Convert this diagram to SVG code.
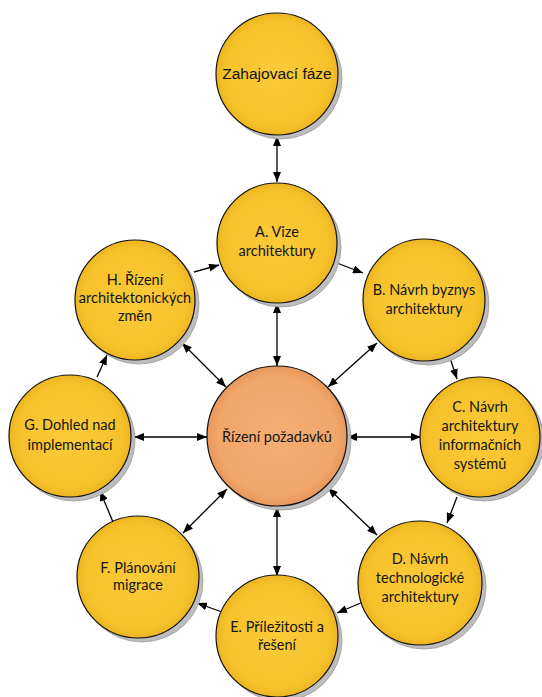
<svg xmlns="http://www.w3.org/2000/svg" width="542" height="697" viewBox="0 0 542 697">
<style>
.shadow{fill:#bdbdbd;stroke:#9a9a9a;stroke-width:0.8}
.y{fill:url(#gy);stroke:#111;stroke-width:1.2}
.o{fill:url(#go);stroke:#111;stroke-width:1.2}
.t{font-family:Lato,"Open Sans",sans-serif;font-size:14.5px;fill:#151515;text-anchor:middle}
.ta{font-family:"Liberation Sans",Arial,sans-serif;font-size:15.5px;fill:#111;text-anchor:middle}
.c{stroke:#000;stroke-width:1.3;fill:none}
.s{marker-end:url(#ah)}
.d{marker-start:url(#ah);marker-end:url(#ah)}
</style>
<defs>
<radialGradient id="gy" cx="0.5" cy="0.5" r="0.5">
<stop offset="0" stop-color="#FBCB38"/>
<stop offset="0.85" stop-color="#F6C22B"/>
<stop offset="1" stop-color="#EDB621"/>
</radialGradient>
<radialGradient id="go" cx="0.5" cy="0.5" r="0.5">
<stop offset="0" stop-color="#F6AE73"/>
<stop offset="0.85" stop-color="#F1A66A"/>
<stop offset="1" stop-color="#E8975A"/>
</radialGradient>
<marker id="ah" viewBox="0 0 10 8" refX="10" refY="4" markerWidth="10" markerHeight="8" markerUnits="userSpaceOnUse" orient="auto-start-reverse">
<path d="M0,0 L10,4 L0,8 z" fill="#000"/>
</marker>
</defs>
<g id="connectors">
<line class="c d" x1="277" y1="136" x2="277" y2="182"/>
<line class="c s" x1="194" y1="272" x2="219" y2="265"/>
<line class="c s" x1="337" y1="263" x2="363" y2="273"/>
<line class="c s" x1="450" y1="358" x2="457" y2="379"/>
<line class="c s" x1="457" y1="497" x2="447" y2="523"/>
<line class="c s" x1="363" y1="602" x2="337" y2="613"/>
<line class="c s" x1="222" y1="612" x2="197" y2="603"/>
<line class="c s" x1="113" y1="522" x2="100" y2="491"/>
<line class="c s" x1="97" y1="377" x2="107" y2="355"/>
<line class="c d" x1="277" y1="303" x2="277" y2="366"/>
<line class="c d" x1="182" y1="343" x2="226" y2="387"/>
<line class="c d" x1="377" y1="343" x2="328" y2="387"/>
<line class="c d" x1="134" y1="437" x2="207" y2="437"/>
<line class="c d" x1="347" y1="437" x2="421" y2="437"/>
<line class="c d" x1="183" y1="533" x2="227" y2="489"/>
<line class="c d" x1="328" y1="488" x2="377" y2="535"/>
<line class="c d" x1="277" y1="507" x2="277" y2="576"/>
</g>
<g id="zahajovaci">
<circle class="shadow" cx="281" cy="78" r="61"/>
<circle class="y" cx="277" cy="74" r="61"/>
<text class="ta" x="277" y="79">Zahajovací fáze</text>
</g>
<g id="a">
<circle class="shadow" cx="281" cy="247" r="60"/>
<circle class="y" cx="277" cy="243" r="60"/>
<text class="t" x="277" y="237">A. Vize</text>
<text class="t" x="277" y="256">architektury</text>
</g>
<g id="b">
<circle class="shadow" cx="428" cy="304" r="61"/>
<circle class="y" cx="424" cy="300" r="61"/>
<text class="t" x="424" y="295">B. Návrh byznys</text>
<text class="t" x="424" y="314">architektury</text>
</g>
<g id="c">
<circle class="shadow" cx="484" cy="441" r="60"/>
<circle class="y" cx="480" cy="437" r="60"/>
<text class="t" x="480" y="412">C. Návrh</text>
<text class="t" x="480" y="431">architektury</text>
<text class="t" x="480" y="450">informačních</text>
<text class="t" x="480" y="469">systémů</text>
</g>
<g id="d">
<circle class="shadow" cx="424" cy="587" r="62"/>
<circle class="y" cx="420" cy="583" r="62"/>
<text class="t" x="420" y="564">D. Návrh</text>
<text class="t" x="420" y="583">technologické</text>
<text class="t" x="420" y="602">architektury</text>
</g>
<g id="e">
<circle class="shadow" cx="281" cy="640" r="61"/>
<circle class="y" cx="277" cy="636" r="61"/>
<text class="t" x="277" y="632">E. Příležitosti a</text>
<text class="t" x="277" y="650">řešení</text>
</g>
<g id="f">
<circle class="shadow" cx="142" cy="581" r="61"/>
<circle class="y" cx="138" cy="577" r="61"/>
<text class="t" x="138" y="573">F. Plánování</text>
<text class="t" x="138" y="590">migrace</text>
</g>
<g id="g">
<circle class="shadow" cx="74" cy="440" r="61"/>
<circle class="y" cx="70" cy="436" r="61"/>
<text class="t" x="70" y="430">G. Dohled nad</text>
<text class="t" x="70" y="450">implementací</text>
</g>
<g id="h">
<circle class="shadow" cx="139" cy="304" r="60"/>
<circle class="y" cx="135" cy="300" r="60"/>
<text class="t" x="135" y="285">H. Řízení</text>
<text class="t" x="135" y="303">architektonických</text>
<text class="t" x="135" y="321">změn</text>
</g>
<g id="center">
<circle class="shadow" cx="281" cy="440" r="70"/>
<circle class="o" cx="277" cy="436" r="70"/>
<text class="t" x="277" y="442">Řízení požadavků</text>
</g>
</svg>
